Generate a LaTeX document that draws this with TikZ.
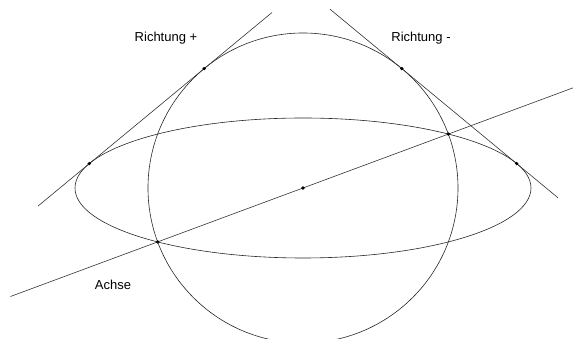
\documentclass[tikz,border=0pt]{standalone}
\usepackage{fontspec}
\setmainfont{Liberation Sans}
\usepackage{tikz}
\usetikzlibrary{calc}

\begin{document}
\begin{tikzpicture}[
  x=1pt, y=1pt,
  every node/.style={font=\fontsize{13}{15}\selectfont},
  curve/.style={line width=0.6pt, black!85},
  gerade/.style={line width=0.6pt, black!80},
  dot/.style={circle, fill=black, inner sep=0pt, minimum size=3.6pt},
]
  % frame: 574 x 339, origin at the common centre
  \useasboundingbox (-303,-151) rectangle (271,188);
  \clip (-303,-151) rectangle (271,188);

  % ---------- sphere and ellipse ----------
  \coordinate (M) at (0,0);
  \draw[curve] (M) circle [radius=155];
  \draw[curve] (M) ellipse [x radius=228, y radius=70];

  % ---------- axis ----------
  \coordinate (axL) at (200.35:312);
  \coordinate (axR) at (20.35:288);
  \coordinate (sL) at (200.35:155);
  \coordinate (sR) at (20.35:155);
  \draw[gerade] (axL) -- (axR);

  % ---------- tangents ----------
  \coordinate (pA) at (-265,-18.1);
  \coordinate (pB) at (-31,175.5);
  \coordinate (mA) at (27,178.8);
  \coordinate (mB) at (255,-9.8);
  \draw[gerade] (pA) -- (pB);
  \draw[gerade] (mA) -- (mB);

  % contact points
  \node[dot] (kp) at (129.6:155) {};
  \node[dot] (km) at (50.4:155) {};
  \node[dot] (ep) at (-213.7,24.4) {};
  \node[dot] (em) at (213.7,24.4) {};
  \node[dot] (c)  at (M) {};
  \node[dot] (il) at (sL) {};
  \node[dot] (ir) at (sR) {};

  % labels
  \node (plus)  at (-137,150) {Richtung +};
  \node (minus) at (118,150)  {Richtung -};
  \node (achse) at (-190,-97) {Achse};
\end{tikzpicture}
\end{document}
